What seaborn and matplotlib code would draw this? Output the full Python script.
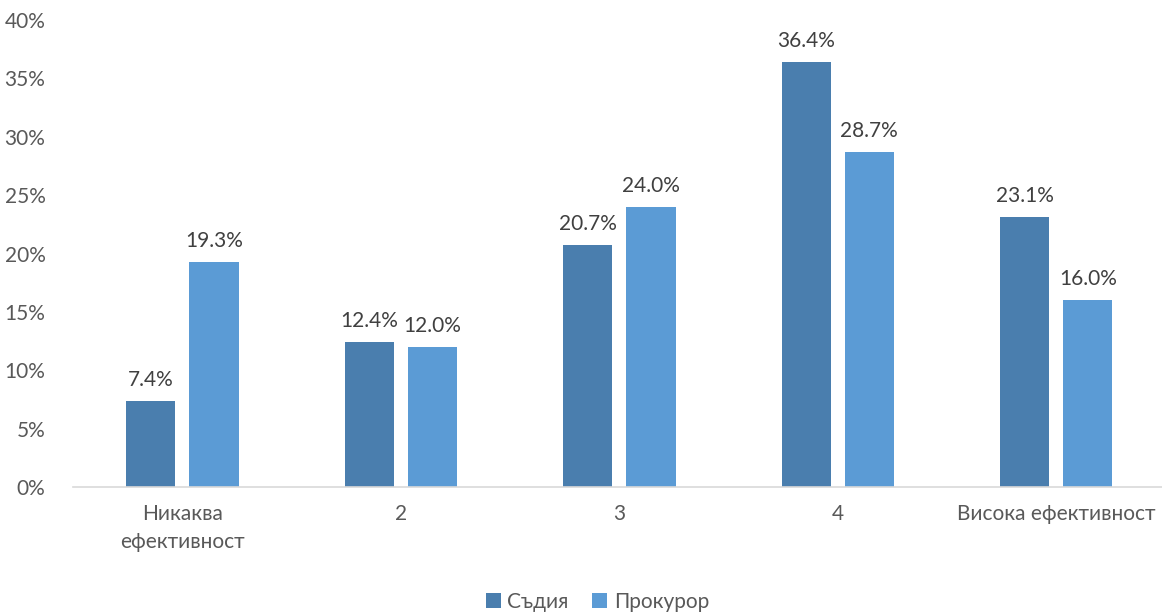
import matplotlib
matplotlib.use("Agg")
import matplotlib.pyplot as plt
import pandas as pd
import seaborn as sns
from matplotlib.ticker import PercentFormatter

categories = ["Никаква\nефективност", "2", "3", "4", "Висока ефективност"]
series_names = ["Съдия", "Прокурор"]
judge = [7.4, 12.4, 20.7, 36.4, 23.1]
prosecutor = [19.3, 12.0, 24.0, 28.7, 16.0]
colors = ["#4a7eae", "#5b9bd5"]

df = pd.DataFrame({
    "category": categories * 2,
    "group": [series_names[0]] * 5 + [series_names[1]] * 5,
    "value": judge + prosecutor,
})

sns.set_theme(style="white")
plt.rcParams["font.family"] = ["Lato", "DejaVu Sans"]

fig = plt.figure(figsize=(11.62, 6.12), dpi=100)
ax = fig.add_axes([0.063, 0.2042, 0.94, 0.763])

sns.barplot(data=df, x="category", y="value", hue="group", palette=colors,
            width=0.578, gap=0.22, ax=ax, saturation=1, legend=True,
            linewidth=0)

for cont in ax.containers:
    ax.bar_label(cont, fmt="%.1f%%", padding=8, fontsize=15, color="#404040")

ax.set_ylim(0, 40)
ax.set_xlim(-0.5, 4.5)
ax.set_yticks(range(0, 41, 5))
ax.yaxis.set_major_formatter(PercentFormatter(decimals=0))
ax.tick_params(axis="both", labelsize=15, labelcolor="#595959", length=0)
ax.tick_params(axis="x", pad=12)
ax.tick_params(axis="y", pad=20)
for lbl in ax.get_xticklabels():
    lbl.set_linespacing(1.5)
ax.set_xlabel("")
ax.set_ylabel("")
for s in ["top", "right", "left"]:
    ax.spines[s].set_visible(False)
ax.spines["bottom"].set_color("#d9d9d9")
ax.spines["bottom"].set_linewidth(1.2)

# легенда внизу, по центру рисунка
handles, labels = ax.get_legend_handles_labels()
ax.get_legend().remove()
fig.legend(handles, labels, loc="lower center", bbox_to_anchor=(0.514, -0.03),
           ncol=2, frameon=False, fontsize=15, handlelength=0.75, handleheight=0.75,
           handletextpad=0.3, columnspacing=1.1, labelcolor="#595959")

fig.savefig("out.png", dpi=100)
